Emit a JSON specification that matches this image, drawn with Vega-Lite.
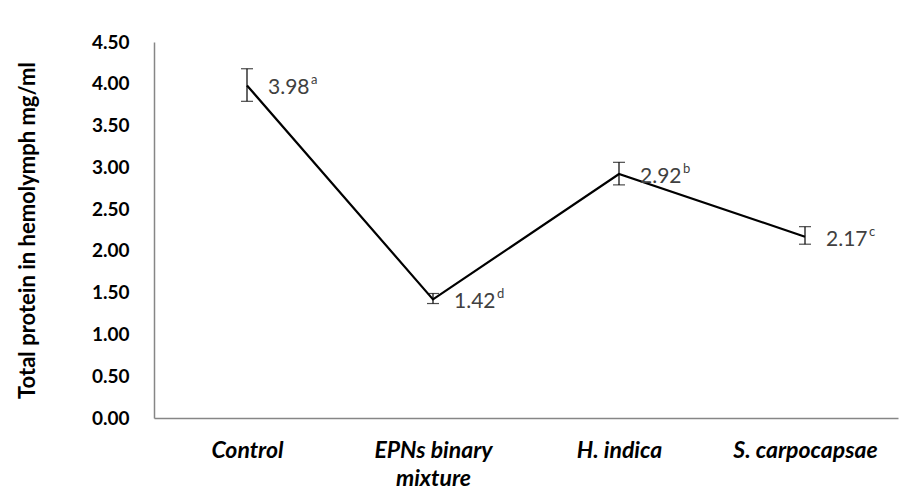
{
  "$schema": "https://vega.github.io/schema/vega-lite/v6.json",
  "width": 744,
  "height": 376,
  "autosize": "none",
  "padding": {"left": 154, "top": 42, "right": 16, "bottom": 86},
  "background": "white",
  "config": {
    "view": {"stroke": null},
    "font": "Lato"
  },
  "data": {
    "values": [
      {"treatment": "Control", "mean": 3.98, "lo": 3.79, "hi": 4.18, "value": "3.98", "sig": "a"},
      {"treatment": "EPNs binary mixture", "mean": 1.42, "lo": 1.37, "hi": 1.49, "value": "1.42", "sig": "d"},
      {"treatment": "H. indica", "mean": 2.92, "lo": 2.79, "hi": 3.06, "value": "2.92", "sig": "b"},
      {"treatment": "S. carpocapsae", "mean": 2.17, "lo": 2.08, "hi": 2.29, "value": "2.17", "sig": "c"}
    ]
  },
  "encoding": {
    "x": {
      "field": "treatment",
      "type": "nominal",
      "sort": null,
      "scale": {"type": "point", "padding": 0.5},
      "axis": {
        "title": null,
        "labelAngle": 0,
        "labelFont": "Lato",
        "labelFontSize": 23,
        "labelFontWeight": "bold",
        "labelFontStyle": "italic",
        "labelColor": "#000000",
        "labelPadding": 21,
        "labelLineHeight": 28,
        "labelExpr": "datum.label == 'EPNs binary mixture' ? ['EPNs binary', 'mixture'] : datum.label",
        "ticks": false,
        "grid": false,
        "domainColor": "#868686",
        "domainWidth": 1.5
      }
    }
  },
  "layer": [
    {
      "mark": {"type": "rule", "color": "#000000", "strokeWidth": 1.2},
      "encoding": {
        "y": {"field": "lo", "type": "quantitative", "scale": {"domain": [0, 4.5]}},
        "y2": {"field": "hi"}
      }
    },
    {
      "mark": {"type": "tick", "color": "#000000", "size": 12, "thickness": 1.2, "orient": "horizontal"},
      "encoding": {"y": {"field": "lo", "type": "quantitative"}}
    },
    {
      "mark": {"type": "tick", "color": "#000000", "size": 12, "thickness": 1.2, "orient": "horizontal"},
      "encoding": {"y": {"field": "hi", "type": "quantitative"}}
    },
    {
      "mark": {"type": "line", "color": "#000000", "strokeWidth": 2.2},
      "encoding": {
        "y": {
          "field": "mean",
          "type": "quantitative",
          "scale": {"domain": [0, 4.5]},
          "axis": {
            "title": "Total protein in hemolymph mg/ml",
            "titleFont": "Lato",
            "titleFontSize": 22,
            "titleFontWeight": "bold",
            "titleColor": "#000000",
            "titlePadding": 52,
            "values": [0, 0.5, 1, 1.5, 2, 2.5, 3, 3.5, 4, 4.5],
            "format": ".2f",
            "labelFont": "Lato",
            "labelFontSize": 19,
            "labelFontWeight": "bold",
            "labelColor": "#000000",
            "labelPadding": 25,
            "ticks": false,
            "grid": false,
            "domainColor": "#868686",
            "domainWidth": 1.5
          }
        }
      }
    },
    {
      "mark": {"type": "text", "align": "left", "baseline": "middle", "dx": 21, "dy": 3, "fontSize": 21, "font": "Lato", "color": "#404040"},
      "encoding": {
        "y": {"field": "mean", "type": "quantitative"},
        "text": {"field": "value"}
      }
    },
    {
      "mark": {"type": "text", "align": "left", "baseline": "middle", "dx": 64, "dy": -5, "fontSize": 13, "font": "Lato", "color": "#404040"},
      "encoding": {
        "y": {"field": "mean", "type": "quantitative"},
        "text": {"field": "sig"}
      }
    }
  ]
}
